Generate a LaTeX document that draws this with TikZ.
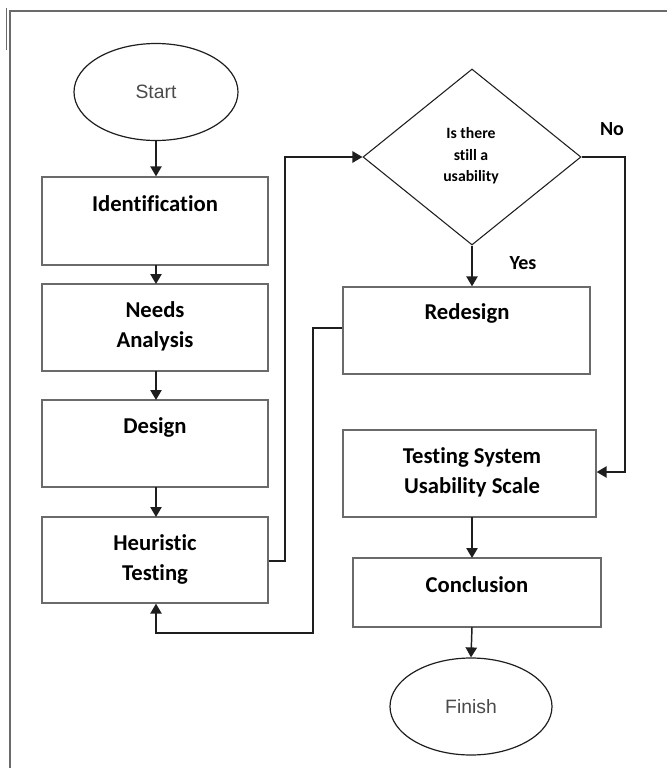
\documentclass[tikz,border=0pt]{standalone}
\usepackage{fontspec}
\setmainfont{Carlito}[Ligatures=NoCommon]
\newfontfamily\arialfont{Liberation Sans}
\usetikzlibrary{shapes.geometric,arrows.meta}
\definecolor{boxline}{HTML}{6A6A6A}
\definecolor{conn}{HTML}{1E1E1E}
\definecolor{termtext}{HTML}{4A4A4A}
\tikzset{
  stepbox/.style={draw=boxline,line width=1pt,fill=white,inner sep=0pt},
  term/.style={ellipse,draw=conn,line width=0.9pt,inner sep=0pt,font=\arialfont\fontsize{14.5}{16}\selectfont,text=termtext},
  decide/.style={diamond,draw=conn,line width=0.8pt,inner sep=0pt},
  lbl/.style={font=\bfseries\fontsize{17}{22.5}\selectfont,align=center,inner sep=0pt},
  conn/.style={draw=conn,line width=1.1pt,-{Triangle[length=7.5pt,width=8.5pt]}},
  frame/.style={draw=boxline,line width=1.6pt}
}
\begin{document}
\begin{tikzpicture}[x=0.75pt,y=-0.75pt]
\useasboundingbox (0,0) rectangle (667,768);
% frame
\draw[frame] (10,768) -- (10,11) -- (667,11);
\draw[draw=boxline,line width=1pt] (6.5,8) -- (6.5,50);
% nodes
\node[term,minimum width=164*0.75pt,minimum height=97*0.75pt] (start) at (156,92) {Start};
\node[stepbox,minimum width=226*0.75pt,minimum height=88*0.75pt] (ident) at (155,221) {};
\node[stepbox,minimum width=226*0.75pt,minimum height=87*0.75pt] (needs) at (155,327.5) {};
\node[stepbox,minimum width=226*0.75pt,minimum height=87*0.75pt] (design) at (155,443.5) {};
\node[stepbox,minimum width=226*0.75pt,minimum height=86*0.75pt] (heur) at (155,560) {};
\node[decide,minimum width=218*0.75pt,minimum height=176*0.75pt] (dia) at (472,157) {};
\node[stepbox,minimum width=247*0.75pt,minimum height=87*0.75pt] (red) at (466.5,330.5) {};
\node[stepbox,minimum width=253*0.75pt,minimum height=87*0.75pt] (sus) at (469.5,473.5) {};
\node[stepbox,minimum width=248*0.75pt,minimum height=69*0.75pt] (concl) at (477,592.5) {};
\node[term,minimum width=162*0.75pt,minimum height=97*0.75pt] (finish) at (471,706.5) {Finish};
% labels
\node[lbl] (tident) at (155,204) {Identification};
\node[lbl] (tneeds) at (155,326) {Needs\\Analysis};
\node[lbl] (tdesign) at (155,427) {Design};
\node[lbl] (theur) at (155,559) {Heuristic\\Testing};
\node[lbl] (tred) at (467,313) {Redesign};
\node[lbl] (tsus) at (472,472) {Testing System\\Usability Scale};
\node[lbl] (tconcl) at (477,585) {Conclusion};
\node[font=\bfseries\fontsize{11.8}{16}\selectfont,align=center,inner sep=0pt] (tdia) at (471,156) {Is there\\still a\\usability};
\node[font=\bfseries\fontsize{15}{16}\selectfont,inner sep=0pt] (tno) at (612,129) {No};
\node[font=\bfseries\fontsize{15}{16}\selectfont,inner sep=0pt] (tyes) at (523,263) {Yes};
% coordinates
\coordinate (h1) at (285,561);
\coordinate (h2) at (285,157);
\coordinate (n1) at (625,157);
\coordinate (n2) at (625,472);
\coordinate (r1) at (313,328);
\coordinate (r2) at (313,633);
\coordinate (r3) at (156,633);
% connectors
\draw[conn] (start.south) -- (start.south |- ident.north);
\draw[conn] (156,265) -- (156,284);
\draw[conn] (156,371) -- (156,400);
\draw[conn] (156,487) -- (156,517);
\draw[conn] (heur.east |- h1) -- (h1) -- (h2) -- (dia.west);
\draw[conn] (dia.south) -- (dia.south |- red.north);
\draw[conn] (dia.east) -- (n1) -- (n2) -- (sus.east |- n2);
\draw[conn] (red.west |- r1) -- (r1) -- (r2) -- (r3) -- (r3 |- heur.south);
\draw[conn] (472,517) -- (472,558);
\draw[conn] (472,627) -- (finish.north);
\end{tikzpicture}
\end{document}
